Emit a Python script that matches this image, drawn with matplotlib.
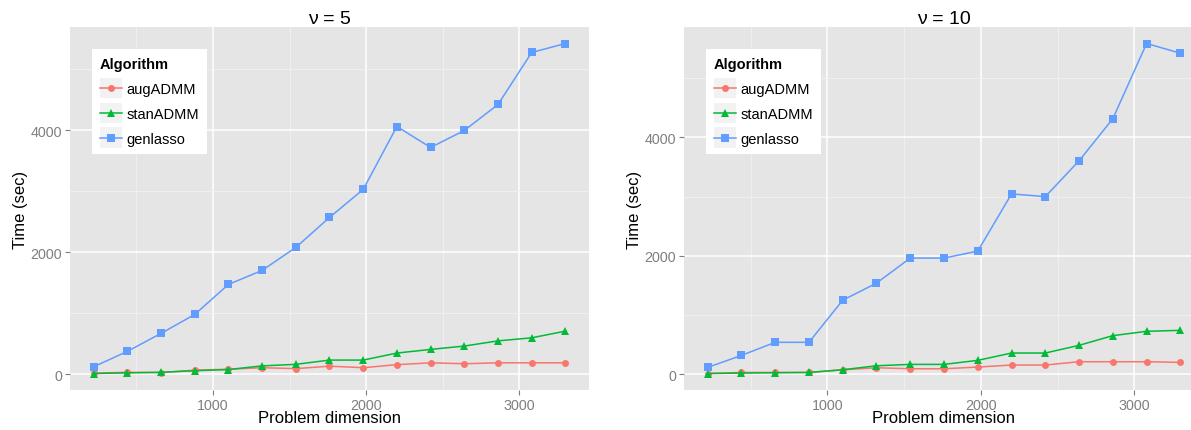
import matplotlib
matplotlib.use("Agg")
import matplotlib.pyplot as plt
from matplotlib.legend_handler import HandlerLine2D
from matplotlib.patches import Rectangle
from matplotlib.lines import Line2D

plt.rcParams['font.family'] = ['Liberation Sans', 'DejaVu Sans']

dims = [220, 440, 660, 880, 1100, 1320, 1540, 1760, 1980, 2200, 2420, 2640, 2860, 3080, 3300]

# nu = 5
aug_5 = [15, 30, 25, 65, 80, 105, 90, 130, 105, 155, 185, 170, 185, 185, 185]
stan_5 = [10, 20, 30, 55, 75, 135, 160, 230, 230, 345, 405, 460, 545, 595, 705]
gen_5 = [120, 372, 667, 978, 1470, 1700, 2077, 2569, 3028, 4060, 3716, 3995, 4421, 5274, 5421]

# nu = 10
aug_10 = [10, 28, 28, 28, 73, 107, 90, 90, 119, 153, 153, 209, 209, 209, 198]
stan_10 = [10, 17, 23, 28, 73, 141, 164, 164, 232, 356, 356, 486, 650, 723, 740]
gen_10 = [113, 316, 537, 537, 1249, 1537, 1961, 1961, 2079, 3045, 3000, 3605, 4317, 5588, 5424]

titles = ["ν = 5", "ν = 10"]
algorithms = ["augADMM", "stanADMM", "genlasso"]
colors = ["#F8766D", "#00BA38", "#619CFF"]
markers = ["o", "^", "s"]
msizes = [5, 6, 5.5]

panels = [(aug_5, stan_5, gen_5), (aug_10, stan_10, gen_10)]

W, H = 1191, 431
fig = plt.figure(figsize=(W / 100, H / 100), dpi=100)

boxes = [(70, 28, 519, 363), (684, 28, 520, 363)]


class KeyHandler(HandlerLine2D):
    def create_artists(self, legend, orig_handle, xdescent, ydescent, width, height, fontsize, trans):
        arts = super().create_artists(legend, orig_handle, xdescent, ydescent, width, height, fontsize, trans)
        pad = 0.45 * fontsize
        rect = Rectangle((-xdescent, -ydescent - pad * 0.75), width, height + pad * 1.5,
                         facecolor="#F2F2F2", edgecolor="none", transform=trans)
        return [rect] + list(arts)


for (x0, y0, w, h), title, series in zip(boxes, titles, panels):
    ax = fig.add_axes([x0 / W, 1 - (y0 + h) / H, w / W, h / H])
    ax.set_facecolor("#E5E5E5")
    for s in ax.spines.values():
        s.set_visible(False)
    handles = []
    for vals, name, c, m, ms in zip(series, algorithms, colors, markers, msizes):
        ln, = ax.plot(dims, vals, color=c, marker=m, markersize=ms, lw=1.1,
                      markeredgewidth=0, label=name, zorder=3)
        handles.append(ln)
    allv = [v for s in series for v in s]
    lo, hi = min(allv), max(allv)
    r = hi - lo
    ax.set_ylim(lo - 0.05 * r, hi + 0.05 * r)
    xr = max(dims) - min(dims)
    ax.set_xlim(min(dims) - 0.05 * xr, max(dims) + 0.05 * xr)
    ax.set_xticks([1000, 2000, 3000])
    ax.set_yticks([0, 2000, 4000])
    ax.set_xticks([500, 1500, 2500], minor=True)
    ax.set_yticks([1000, 3000, 5000], minor=True)
    ax.grid(True, which="major", color="white", lw=1.1, zorder=1)
    ax.grid(True, which="minor", color="#F2F2F2", lw=0.6, zorder=1)
    ax.set_axisbelow(True)
    ax.tick_params(which="major", length=3.5, width=0.8, color="#7F7F7F",
                   labelcolor="#7F7F7F", labelsize=10.3, pad=2)
    ax.tick_params(which="minor", length=0)
    ax.set_title(title, fontsize=14, pad=3)
    ax.set_xlabel("Problem dimension", fontsize=12, labelpad=-1)
    ax.set_ylabel("Time (sec)", fontsize=12)
    ax.yaxis.set_label_coords(-0.08, 0.5)

    leg = ax.legend(handles=handles, title="Algorithm", loc="upper left",
                    bbox_to_anchor=(0.042, 0.94), fontsize=10.5, title_fontsize=10.5,
                    frameon=True, fancybox=False, framealpha=1, edgecolor="white",
                    handlelength=1.55, handletextpad=0.3, labelspacing=0.75,
                    borderpad=0.55, borderaxespad=0,
                    handler_map={Line2D: KeyHandler()})
    leg.get_frame().set_linewidth(0)
    leg.get_title().set_fontweight("bold")
    leg._legend_box.align = "left"
    leg.set_zorder(5)

fig.savefig("out.png", dpi=100)
